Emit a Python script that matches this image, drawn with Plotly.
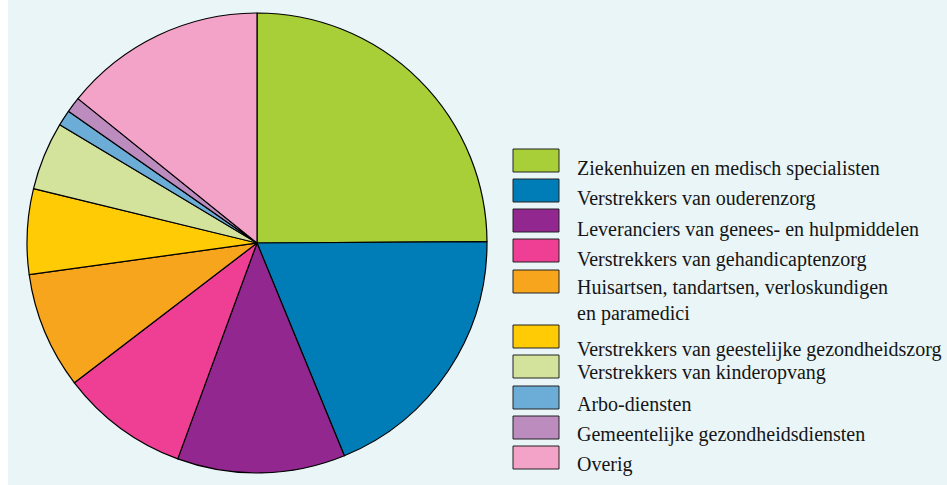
import plotly.graph_objects as go

labels = [
    "Ziekenhuizen en medisch specialisten",
    "Verstrekkers van ouderenzorg",
    "Leveranciers van genees- en hulpmiddelen",
    "Verstrekkers van gehandicaptenzorg",
    "Huisartsen, tandartsen, verloskundigen<br>en paramedici",
    "Verstrekkers van geestelijke gezondheidszorg",
    "Verstrekkers van kinderopvang",
    "Arbo-diensten",
    "Gemeentelijke gezondheidsdiensten",
    "Overig",
]
values = [24.9, 18.9, 11.8, 9.0, 8.2, 6.0, 4.8, 1.1, 1.1, 14.2]
colors = ["#A8CF38", "#007DB6", "#92278F", "#EE3F94", "#F8A51E",
          "#FFCB05", "#D4E39C", "#6BADD6", "#BC8CBF", "#F4A3C8"]

W, H = 947, 485
BG = "#EAF5F8"

fig = go.Figure(go.Pie(
    labels=labels, values=values, sort=False, direction="clockwise", rotation=0,
    marker=dict(colors=colors, line=dict(color="#000000", width=1.2)),
    textinfo="none", hoverinfo="label+percent", showlegend=False,
    domain=dict(x=[(257 - 230) / W, (257 + 230) / W],
                y=[(H - 243 - 230) / H, (H - 243 + 230) / H]),
))

shapes = [dict(type="rect", xref="paper", yref="paper", x0=8 / W, x1=1, y0=0, y1=1,
               fillcolor=BG, line=dict(width=0), layer="below")]
annotations = []
box_tops = [149, 179, 209, 239, 270, 325, 355, 386, 416, 446]
text_y = [168, 198, 229, 259, 300, 349, 373, 404, 434, 464]
for lab, col, bt, ty in zip(labels, colors, box_tops, text_y):
    shapes.append(dict(type="rect", xref="paper", yref="paper",
                       x0=513 / W, x1=559 / W, y0=(H - bt - 23) / H, y1=(H - bt) / H,
                       fillcolor=col, line=dict(color="#222222", width=1)))
    annotations.append(dict(text=lab, xref="paper", yref="paper", x=575 / W, y=(H - ty) / H,
                            xanchor="left", yanchor="middle", showarrow=False, align="left",
                            font=dict(family="Liberation Serif", size=20, color="#151515")))

fig.update_layout(width=W, height=H, margin=dict(l=0, r=0, t=0, b=0),
                  paper_bgcolor="white", plot_bgcolor="white",
                  shapes=shapes, annotations=annotations)
fig.write_html("out.html", config={"displayModeBar": False},
               post_script="document.body.style.margin='0';")
